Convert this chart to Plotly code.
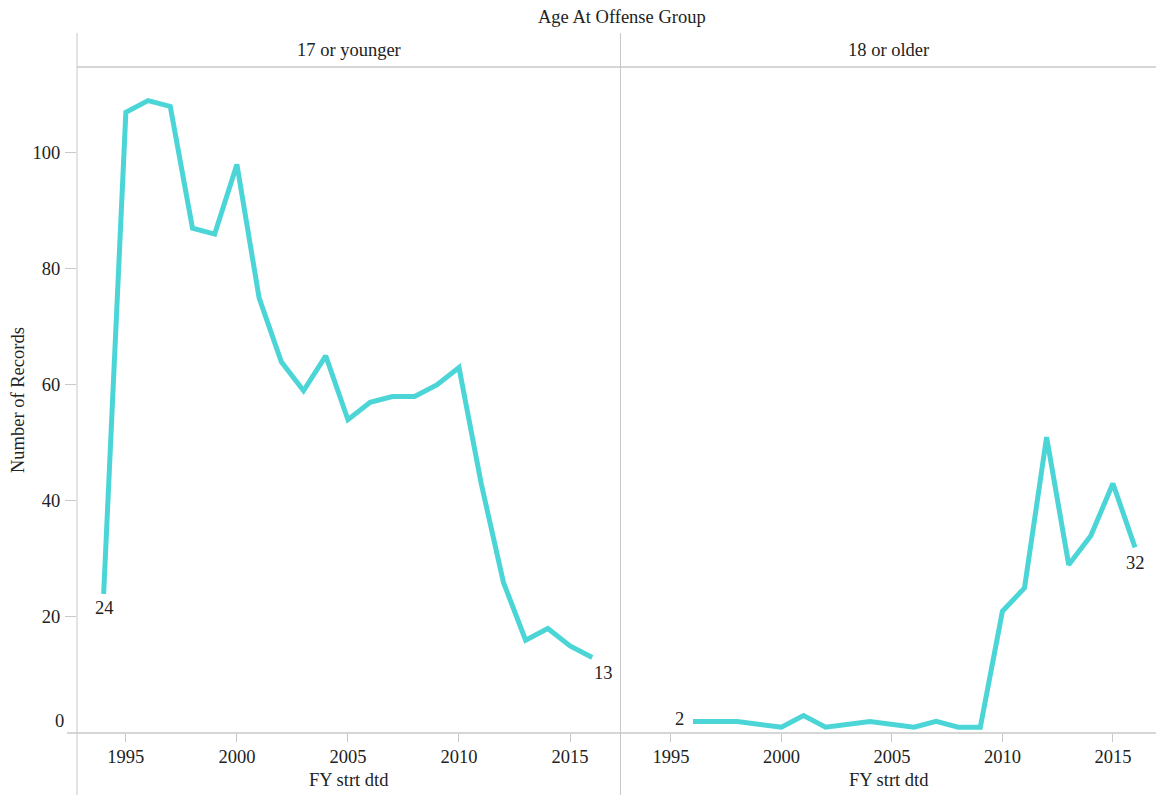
import plotly.graph_objects as go

# ---- data ----
years_young = list(range(1994, 2017))
records_young = [24, 107, 109, 108, 87, 86, 98, 75, 64, 59, 65, 54, 57, 58, 58, 60, 63, 43, 26, 16, 18, 15, 13]
years_old = [1996, 1997, 1998, 2000, 2001, 2002, 2004, 2006, 2007, 2008, 2009,
             2010, 2011, 2012, 2013, 2014, 2015, 2016]
records_old = [2, 2, 2, 1, 3, 1, 2, 1, 2, 1, 1, 21, 25, 51, 29, 34, 43, 32]
panel_labels = ["17 or younger", "18 or older"]
x_ticks = [1995, 2000, 2005, 2010, 2015]
y_ticks = [20, 40, 60, 80, 100]

# ---- geometry (pixels) ----
W, H = 1156, 795
L, R, T, B = 77, 0, 67, 62
pw = W - L - R
ph = H - T - B
def px(x):
    return (x - L) / pw
def py(y):
    return (H - B - y) / ph

line_col = "#4BD5D6"
grid_col = "#c8c8c8"
txt_col = "#222222"
FONT = "Liberation Serif"
FS = 18.5

dom1 = [0, px(620)]
dom2 = [px(621), 1]

fig = go.Figure()
fig.add_trace(go.Scatter(x=years_young, y=records_young, mode="lines",
                         line=dict(color=line_col, width=5), xaxis="x", yaxis="y",
                         showlegend=False, hoverinfo="x+y"))
fig.add_trace(go.Scatter(x=years_old, y=records_old, mode="lines",
                         line=dict(color=line_col, width=5), xaxis="x2", yaxis="y2",
                         showlegend=False, hoverinfo="x+y"))

axis_common = dict(showgrid=False, zeroline=False, showline=False, ticks="outside",
                   tickcolor=grid_col, tickfont=dict(family=FONT, size=FS, color=txt_col))

fig.update_layout(
    width=W, height=H, autosize=False,
    margin=dict(l=L, r=R, t=T, b=B, pad=0),
    paper_bgcolor="white", plot_bgcolor="white",
    font=dict(family=FONT, size=FS, color=txt_col),
    xaxis=dict(domain=dom1, range=[1992.8, 2017.25], tickvals=x_ticks, ticklen=8,
               ticklabelstandoff=-1, anchor="y", **axis_common),
    xaxis2=dict(domain=dom2, range=[1992.74, 2016.95], tickvals=x_ticks, ticklen=8,
                ticklabelstandoff=-1, anchor="y2", **axis_common),
    yaxis=dict(domain=[0, 1], range=[0, 114.8], tickvals=y_ticks, ticklen=11,
               ticklabelstandoff=1, anchor="x", **axis_common),
    yaxis2=dict(domain=[0, 1], range=[0, 114.8], matches="y", showticklabels=False,
                showgrid=False, zeroline=False, showline=False, ticks="", anchor="x2"),
)

shapes = []
# vertical pane borders
for xp in [L, 620.5]:
    shapes.append(dict(type="line", xref="paper", yref="paper", x0=px(xp), x1=px(xp),
                       y0=py(H), y1=py(33), line=dict(color=grid_col, width=1)))
# header separator
shapes.append(dict(type="line", xref="paper", yref="paper", x0=0, x1=1, y0=1, y1=1,
                   line=dict(color=grid_col, width=1.5)))
# x axis line
shapes.append(dict(type="line", xref="paper", yref="paper", x0=px(67), x1=1, y0=0, y1=0,
                   line=dict(color=grid_col, width=1.5)))
fig.update_layout(shapes=shapes)

def txt(text, x, y, **kw):
    d = dict(text=text, xref="paper", yref="paper", x=x, y=y, xanchor="center",
             yanchor="middle", showarrow=False, font=dict(size=FS))
    d.update(kw)
    return d

ann = []
ann.append(txt("Age At Offense Group", px(622), py(17)))
ann.append(txt(panel_labels[0], (dom1[0] + dom1[1]) / 2, py(50)))
ann.append(txt(panel_labels[1], (dom2[0] + dom2[1]) / 2, py(50)))
for d in (dom1, dom2):
    ann.append(txt("FY strt dtd", (d[0] + d[1]) / 2, py(780)))
ann.append(txt("Number of Records", px(18), 0.5, textangle=-90))
# bottom "0" label kept inside the pane (as in the reference)
ann.append(dict(text="0", xref="paper", yref="y", x=px(66), y=0, xanchor="right",
                yanchor="bottom", yshift=0, showarrow=False, font=dict(size=FS)))
# end-point labels
ann.append(dict(text=str(records_young[0]), xref="x", yref="y", x=years_young[0], y=records_young[0],
                showarrow=False, yshift=-14, xshift=1, font=dict(size=FS)))
ann.append(dict(text=str(records_young[-1]), xref="x", yref="y", x=years_young[-1], y=records_young[-1],
                showarrow=False, yshift=-15, xshift=11, font=dict(size=FS)))
ann.append(dict(text=str(records_old[0]), xref="x2", yref="y2", x=years_old[0], y=records_old[0],
                showarrow=False, xshift=-14, yshift=2, font=dict(size=FS)))
ann.append(dict(text=str(records_old[-1]), xref="x2", yref="y2", x=years_old[-1], y=records_old[-1],
                showarrow=False, yshift=-16, font=dict(size=FS)))
fig.update_layout(annotations=ann)

fig.write_html("out.html", config={"displayModeBar": False},
               post_script="document.body.style.margin='0px';")
